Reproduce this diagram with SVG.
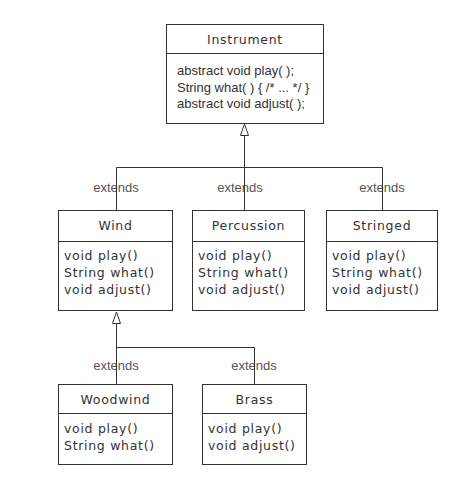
<svg xmlns="http://www.w3.org/2000/svg" width="475" height="480" viewBox="0 0 475 480">
<style>
.box{fill:#fff;stroke:#333;stroke-width:1}
.div{stroke:#333;stroke-width:1}
.t{font-family:"DejaVu Sans",Verdana,sans-serif;font-size:12.5px;letter-spacing:0.7px;fill:#333}
.c{text-anchor:middle}
.a{font-family:"Liberation Sans",Arial,sans-serif;font-size:13px;fill:#333}
.ext{font-family:"Liberation Sans",Arial,sans-serif;font-size:13px;fill:#555;text-anchor:middle}
.ln{fill:none;stroke:#333;stroke-width:1}
.arr{fill:#fff;stroke:#333;stroke-width:1}
</style>
<rect width="475" height="480" fill="#fff"/>
<g id="labels">
<text class="ext" x="116" y="192">extends</text>
<text class="ext" x="240" y="192">extends</text>
<text class="ext" x="382" y="192">extends</text>
<text class="ext" x="116" y="370">extends</text>
<text class="ext" x="254" y="370">extends</text>
</g>
<g id="connectors">
<path class="ln" d="M244.5 136 V210 M116.5 210 V167.5 H382.5 V210"/>
<polygon class="arr" points="244.5,124 240.5,135.5 248.5,135.5"/>
<path class="ln" d="M116.5 323 V384 M116.5 347.5 H254.5 V384"/>
<polygon class="arr" points="116.5,312 112.5,323.5 120.5,323.5"/>
</g>
<g id="Instrument">
<rect class="box" x="166.5" y="24.5" width="157" height="99"/>
<line class="div" x1="166.5" y1="53.5" x2="323.5" y2="53.5"/>
<text class="t c" x="245" y="44">Instrument</text>
<text class="a" x="177" y="75">abstract void play( );</text>
<text class="a" x="177" y="92">String what( ) { /* ... */ }</text>
<text class="a" x="177" y="108">abstract void adjust( );</text>
</g>
<g id="Wind">
<rect class="box" x="58.5" y="210.5" width="114" height="100"/>
<line class="div" x1="58.5" y1="241.5" x2="172.5" y2="241.5"/>
<text class="t c" x="115.5" y="230">Wind</text>
<text class="t" x="64" y="260">void play()</text>
<text class="t" x="64" y="277">String what()</text>
<text class="t" x="64" y="294">void adjust()</text>
</g>
<g id="Percussion">
<rect class="box" x="192.5" y="210.5" width="112" height="100"/>
<line class="div" x1="192.5" y1="241.5" x2="304.5" y2="241.5"/>
<text class="t c" x="248.5" y="230">Percussion</text>
<text class="t" x="198" y="260">void play()</text>
<text class="t" x="198" y="277">String what()</text>
<text class="t" x="198" y="294">void adjust()</text>
</g>
<g id="Stringed">
<rect class="box" x="326.5" y="210.5" width="111" height="100"/>
<line class="div" x1="326.5" y1="241.5" x2="437.5" y2="241.5"/>
<text class="t c" x="382" y="230">Stringed</text>
<text class="t" x="332" y="260">void play()</text>
<text class="t" x="332" y="277">String what()</text>
<text class="t" x="332" y="294">void adjust()</text>
</g>
<g id="Woodwind">
<rect class="box" x="58.5" y="384.5" width="114" height="80"/>
<line class="div" x1="58.5" y1="413.5" x2="172.5" y2="413.5"/>
<text class="t c" x="115.5" y="404">Woodwind</text>
<text class="t" x="64" y="433">void play()</text>
<text class="t" x="64" y="450">String what()</text>
</g>
<g id="Brass">
<rect class="box" x="202.5" y="384.5" width="104" height="80"/>
<line class="div" x1="202.5" y1="413.5" x2="306.5" y2="413.5"/>
<text class="t c" x="254.5" y="404">Brass</text>
<text class="t" x="208" y="433">void play()</text>
<text class="t" x="208" y="450">void adjust()</text>
</g>
</svg>
